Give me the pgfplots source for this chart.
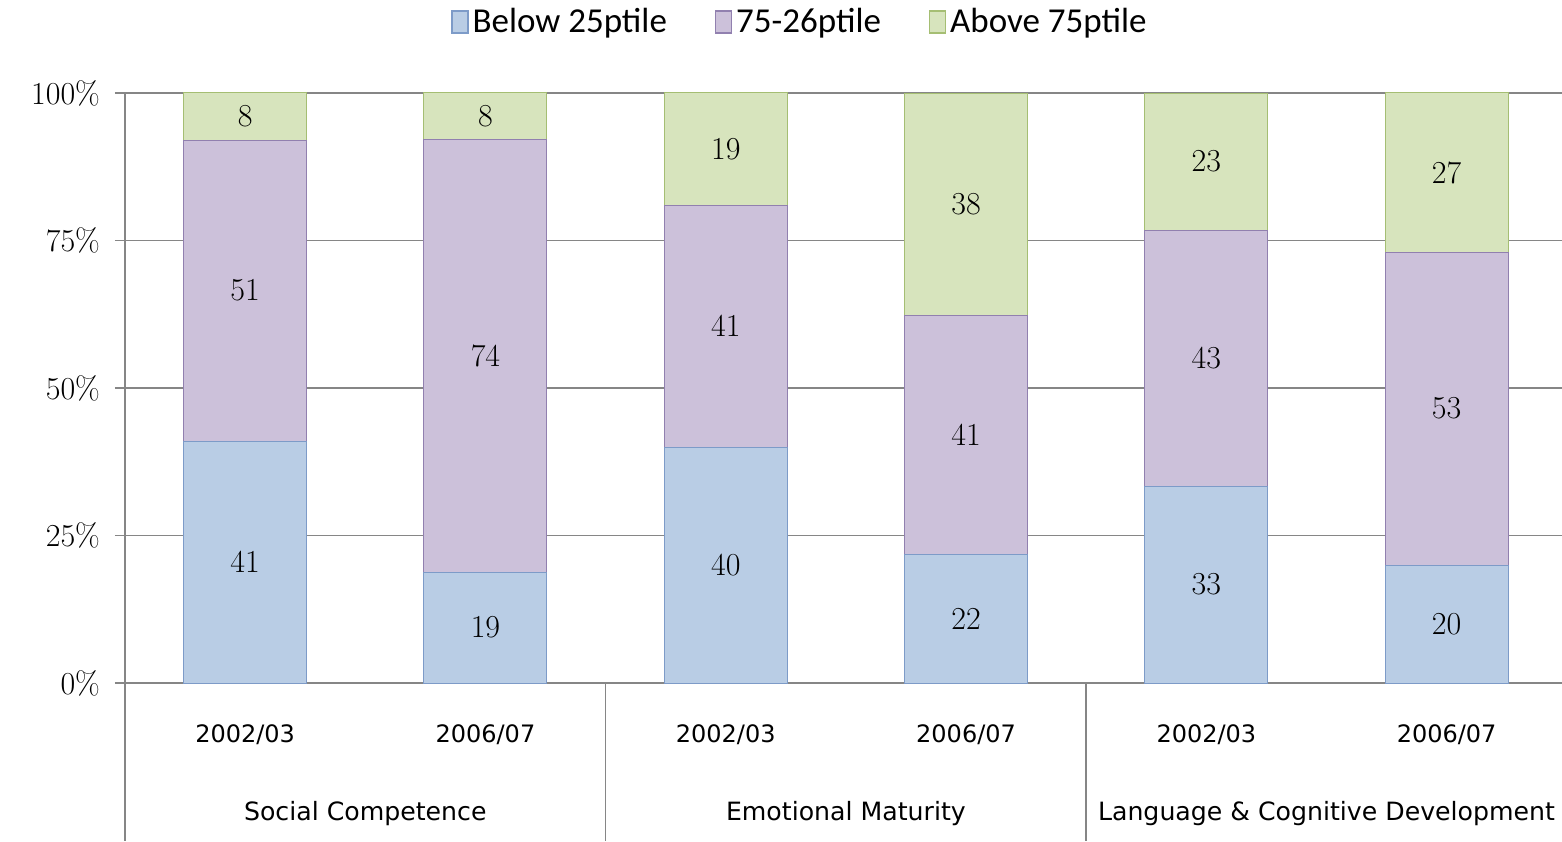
\documentclass[border=0pt]{standalone}
\usepackage{pgfplots}
\pgfplotsset{compat=1.18}
\usepackage{pgfplotstable}
\usepackage{fontspec}
\newfontfamily\carlito{Carlito}
\newfontfamily\dejavu{DejaVu Sans}
\definecolor{blueF}{RGB}{185,205,229}
\definecolor{blueD}{RGB}{125,155,200}
\definecolor{purpF}{RGB}{204,193,218}
\definecolor{purpD}{RGB}{145,128,175}
\definecolor{greenF}{RGB}{215,228,189}
\definecolor{greenD}{RGB}{165,190,115}
\definecolor{gridc}{RGB}{134,134,134}

% heights are the shares normalised to 100; lab is the printed value
\pgfplotstableread{
x y lab
0 41.00 41
1 18.81 19
2 40.00 40
3 21.78 22
4 33.33 33
5 20.00 20
}\below
\pgfplotstableread{
x y lab
0 51.00 51
1 73.27 74
2 41.00 41
3 40.59 41
4 43.43 43
5 53.00 53
}\middle
\pgfplotstableread{
x y lab
0 8.00 8
1 7.92 8
2 19.00 19
3 37.62 38
4 23.23 23
5 27.00 27
}\above

\begin{document}
\begin{tikzpicture}
\begin{axis}[
  name=ax,
  scale only axis,
  width=718.5pt, height=295pt,
  xmin=-0.5, xmax=5.48,
  ymin=0, ymax=100,
  ybar stacked, bar width=61.5pt, bar shift=0pt,
  axis x line*=bottom, axis y line*=left,
  axis line style={draw=gridc, line width=0.8pt, -},
  xtick={0,1,2,3,4,5},
  xticklabels={2002/03,2006/07,2002/03,2006/07,2002/03,2006/07},
  xtick style={draw=none},
  xticklabel style={font=\dejavu\fontsize{12}{14}\selectfont, anchor=center, yshift=-26pt},
  ytick={0,25,50,75,100},
  yticklabels={0\%,25\%,50\%,75\%,100\%},
  ytick align=outside,
  major tick length=5pt,
  ytick style={draw=gridc, line width=0.8pt},
  yticklabel style={font=\fontsize{16}{18}\selectfont, xshift=-4pt},
  ymajorgrids,
  grid style={draw=gridc, line width=0.8pt},
  clip=false,
  point meta=explicit symbolic,
  nodes near coords,
  every node near coord/.append style={font=\fontsize{16}{18}\selectfont, text=black, anchor=center},
  legend style={draw=none, legend columns=-1, at={(0.4704,1.1203)}, anchor=center,
    font=\carlito\fontsize{17.5}{20}\selectfont,
    /tikz/every even column/.append style={column sep=22pt}},
  legend image code/.code={\draw[#1, line width=0.6pt] (0pt,-5.5pt) rectangle (8pt,5.5pt);},
]
\addplot[fill=blueF, draw=blueD, line width=0.5pt] table[x=x, y=y, meta=lab] {\below};
\addlegendentry{Below 25ptile}
\addplot[fill=purpF, draw=purpD, line width=0.5pt] table[x=x, y=y, meta=lab] {\middle};
\addlegendentry{75-26ptile}
\addplot[fill=greenF, draw=greenD, line width=0.5pt] table[x=x, y=y, meta=lab] {\above};
\addlegendentry{Above 75ptile}

\draw[gridc, line width=0.8pt] (axis cs:-0.5,0) -- ++(0pt,-79pt);
\draw[gridc, line width=0.8pt] (axis cs:1.5,0) -- ++(0pt,-79pt);
\draw[gridc, line width=0.8pt] (axis cs:3.5,0) -- ++(0pt,-79pt);
\node[font=\dejavu\fontsize{12.6}{14}\selectfont] at ([yshift=-65.5pt]axis cs:0.5,0) {Social Competence};
\node[font=\dejavu\fontsize{12.6}{14}\selectfont] at ([yshift=-65.5pt]axis cs:2.5,0) {Emotional Maturity};
\node[font=\dejavu\fontsize{12.6}{14}\selectfont] at ([yshift=-65.5pt]axis cs:4.5,0) {Language \& Cognitive Development};
\end{axis}
\pgfresetboundingbox
\path ([xshift=-62.5pt, yshift=-79pt]ax.south west) rectangle ([yshift=46.5pt]ax.north east);
\end{tikzpicture}
\end{document}
